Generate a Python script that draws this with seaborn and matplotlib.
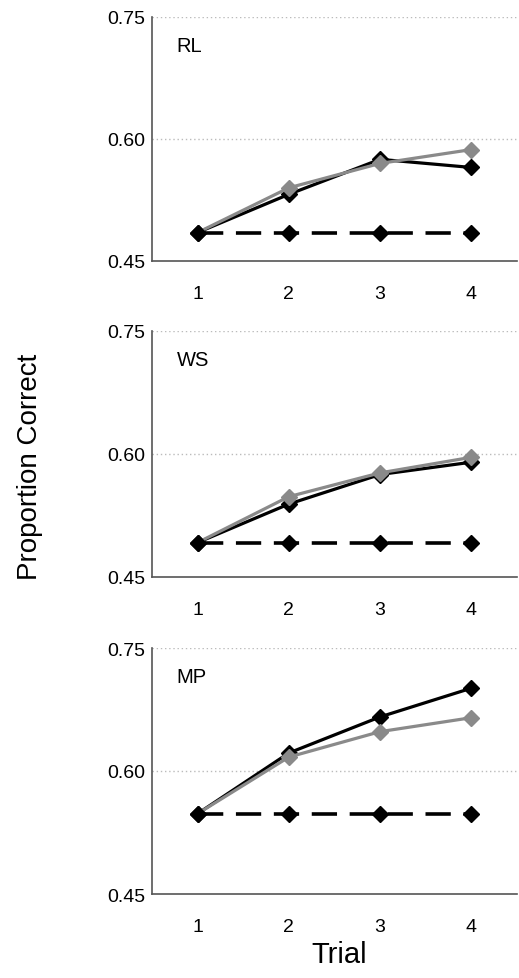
import matplotlib
matplotlib.use("Agg")
import matplotlib.pyplot as plt
import seaborn as sns
import numpy as np
import pandas as pd

sns.set_style("white")
plt.rcParams['font.family'] = ['Liberation Sans', 'DejaVu Sans']
plt.rcParams['text.color'] = 'black'
plt.rcParams['axes.labelcolor'] = 'black'

# ---- data ----
trials = [1, 2, 3, 4]
panels = ["RL", "WS", "MP"]
black_vals = {
    "RL": [0.485, 0.532, 0.575, 0.565],
    "WS": [0.492, 0.539, 0.575, 0.590],
    "MP": [0.548, 0.622, 0.666, 0.701],
}
gray_vals = {
    "RL": [0.485, 0.540, 0.570, 0.587],
    "WS": [0.492, 0.548, 0.577, 0.596],
    "MP": [0.548, 0.617, 0.648, 0.665],
}
baseline_vals = {
    "RL": [0.485, 0.485, 0.485, 0.485],
    "WS": [0.492, 0.492, 0.492, 0.492],
    "MP": [0.548, 0.548, 0.548, 0.548],
}
yticks = [0.45, 0.60, 0.75]
ytick_labels = ["0.45", "0.60", "0.75"]

W, H = 519, 979
fig = plt.figure(figsize=(W / 100, H / 100), dpi=100)

# (top_px, bottom_px) for each panel
boxes = [(18, 262), (332, 578), (649, 895)]
left_px, right_px = 152, 517

for name, (top, bot) in zip(panels, boxes):
    ax = fig.add_axes([left_px / W, 1 - bot / H, (right_px - left_px) / W, (bot - top) / H])
    ax.set_facecolor("white")

    # baseline (dashed)
    sns.lineplot(x=trials, y=baseline_vals[name], ax=ax, color="black", linewidth=2.6,
                 marker="D", markersize=8.5, markeredgecolor="black", markeredgewidth=1,
                 zorder=6)
    ax.lines[-1].set_dashes((7, 3.5))
    # black solid
    sns.lineplot(x=trials, y=black_vals[name], ax=ax, color="black", linewidth=2.3,
                 marker="D", markersize=8.5, markeredgecolor="black", markeredgewidth=1,
                 zorder=4)
    # gray solid
    sns.lineplot(x=trials, y=gray_vals[name], ax=ax, color="#8a8a8a", linewidth=2.3,
                 marker="D", markersize=8.5, markeredgecolor="#8a8a8a", markeredgewidth=1,
                 markerfacecolor="#8a8a8a", zorder=5)

    ax.set_xlim(0.5, 4.5)
    ax.set_ylim(0.45, 0.75)
    ax.set_yticks(yticks)
    ax.set_yticklabels(ytick_labels)
    ax.set_xticks(trials)
    ax.set_xticklabels([str(t) for t in trials])
    ax.set_xticks([1.5, 2.5, 3.5], minor=True)
    ax.tick_params(axis="x", which="major", length=0, pad=17, labelsize=14, labelcolor="black")
    ax.tick_params(axis="x", which="minor", length=5, width=1, color="#555555", direction="out")
    ax.tick_params(axis="y", which="major", length=3, width=1, color="#555555", direction="out",
                   pad=2, labelsize=14, labelcolor="black")
    ax.set_xlabel("")
    ax.set_ylabel("")

    for y in [0.60, 0.75]:
        ax.axhline(y, color="#bbbbbb", linestyle=(0, (1, 2)), linewidth=1, zorder=0)

    for s in ["top", "right"]:
        ax.spines[s].set_visible(False)
    for s in ["left", "bottom"]:
        ax.spines[s].set_color("#555555")
        ax.spines[s].set_linewidth(1.2)

    ax.text(0.068, 0.885, name, transform=ax.transAxes, fontsize=14.5, va="center", ha="left")

fig.text(30 / W, 1 - 467 / H, "Proportion Correct", rotation=90, fontsize=20,
         va="center", ha="center")
fig.text(339 / W, 1 - 955 / H, "Trial", fontsize=21, va="center", ha="center")

fig.savefig("out.png", dpi=100, facecolor="white")
